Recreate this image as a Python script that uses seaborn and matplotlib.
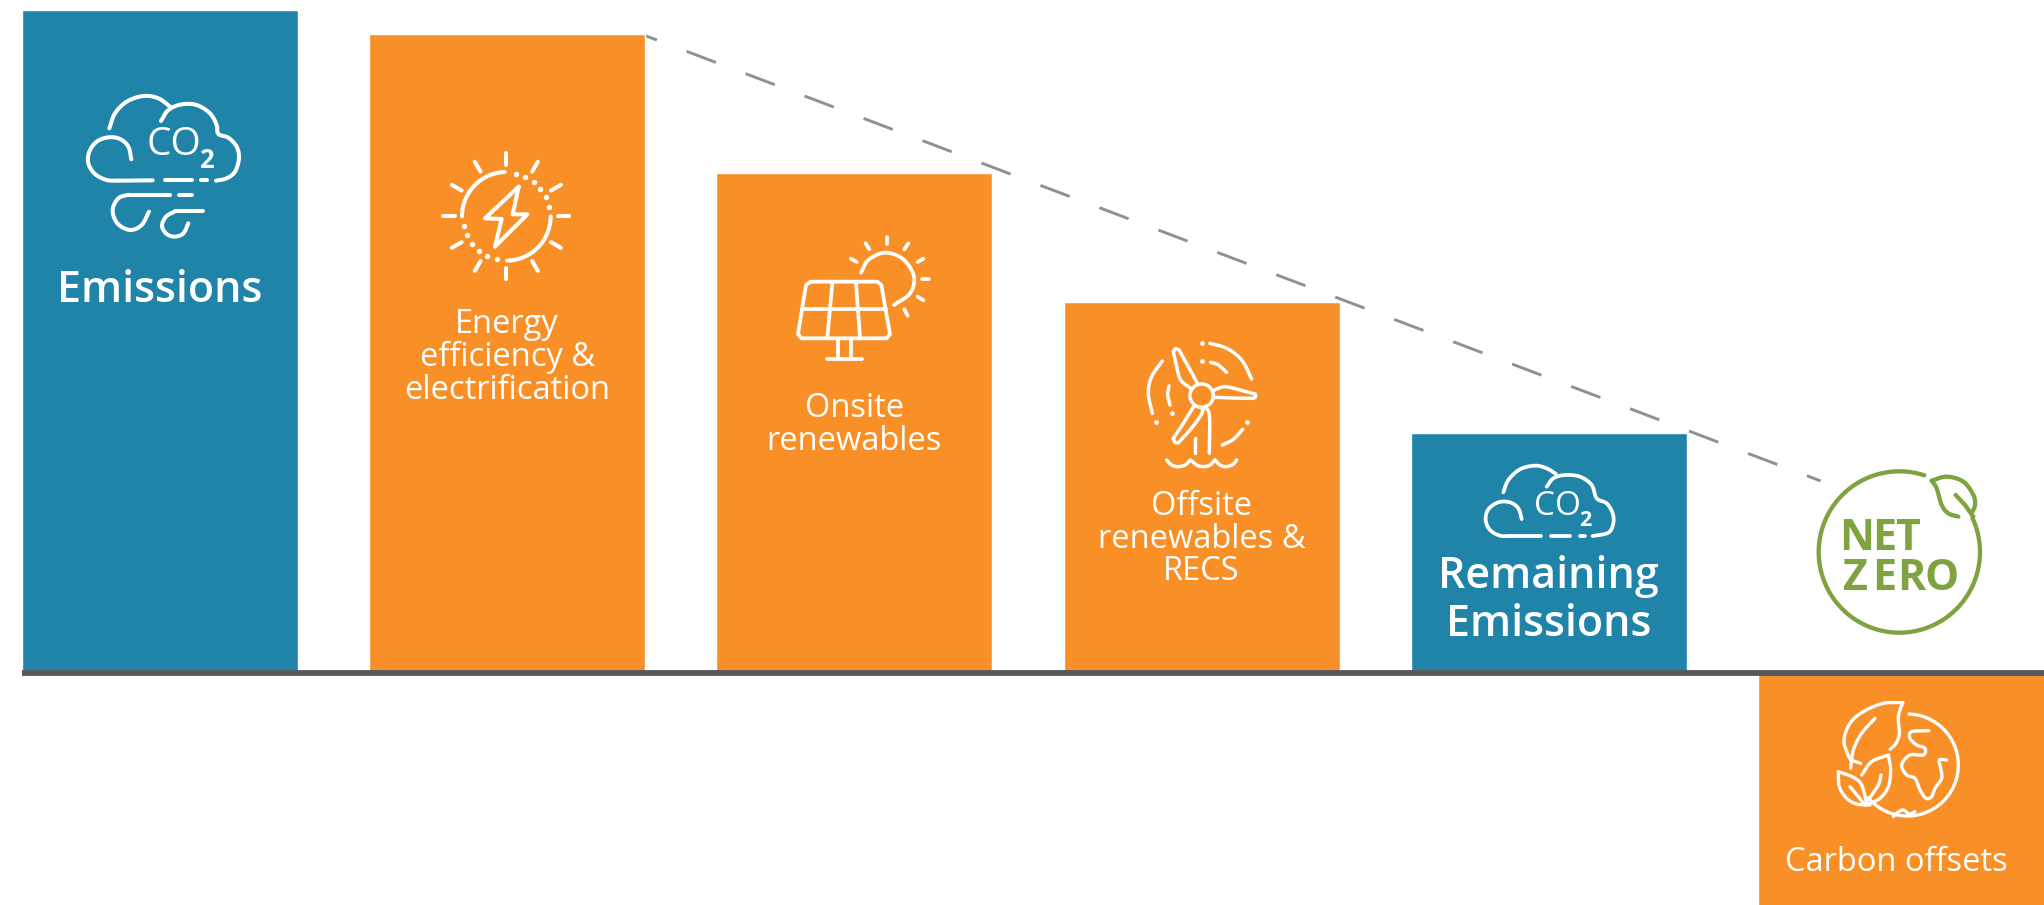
import numpy as np
import pandas as pd
import matplotlib
matplotlib.use("Agg")
import matplotlib.pyplot as plt
import seaborn as sns

# ---- chart values -------------------------------------------------------
categories = ["Emissions", "Energy efficiency", "Onsite", "Offsite", "Remaining", "Offsets"]
values = [100.15, 96.55, 75.45, 55.95, 36.05, -36.0]
bar_colors = ["#2084a9", "#f99027", "#f99027", "#f99027", "#2084a9", "#f99027"]
labels = ["Emissions", "Energy\nefficiency &\nelectrification", "Onsite\nrenewables",
          "Offsite\nrenewables &\nRECS", "Remaining\nEmissions", "Carbon offsets"]
label_y = [290, 357.5, 425, 539, 600.5, 862]
label_bold = [True, False, False, False, True, False]
trend_x = [1.396, 4.783]
trend_y = [96.3, 28.8]

GREEN = "#7fa341"
WHITE = "white"
STEP = 347.2
FIRST = 160.0

sns.set_theme(style="white")
plt.rcParams["font.family"] = ["Open Sans", "DejaVu Sans"]
plt.rcParams["lines.scale_dashes"] = False

fig = plt.figure(figsize=(20.44, 9.05), dpi=100)
ax = fig.add_axes([0, 0, 1, 1])

# ---- bars, zero line and trend line ------------------------------------
frame = pd.DataFrame({"step": categories, "value": values})
sns.barplot(data=frame, x="step", y="value", hue="step", order=categories,
            hue_order=categories, palette=bar_colors, saturation=1,
            width=276 / STEP, dodge=False, legend=False, ax=ax, zorder=3)
x_left, x_right = -FIRST / STEP, (2044 - FIRST) / STEP
ax.set_xlim(x_left, x_right)
ax.set_ylim(-35.45, 101.67)
ax.patches[-1].set_width(1.0)
ax.plot([x_left + 22 / STEP, x_right], [-0.3, -0.3], color="#55585c", lw=4.2,
        solid_capstyle="butt", zorder=4)
ax.plot(trend_x, trend_y, color="#8e9196", lw=2.1,
        linestyle=(13.1, (22.5, 22.9)), zorder=2)
ax.axis("off")

# ---- pictogram layer, measured in figure pixels -------------------------
ov = fig.add_axes([0, 0, 1, 1], zorder=5)
ov.set_xlim(0, 2044)
ov.set_ylim(905, 0)
ov.axis("off")


def spline(points, steps=14):
    p = np.asarray(points, float)
    if len(p) < 3:
        return p
    q = np.vstack([2 * p[0] - p[1], p, 2 * p[-1] - p[-2]])
    out = []
    for i in range(1, len(q) - 2):
        a, b, c, d = q[i - 1], q[i], q[i + 1], q[i + 2]
        for t in np.linspace(0, 1, steps, endpoint=False):
            out.append(0.5 * ((2 * b) + (c - a) * t + (2 * a - 5 * b + 4 * c - d) * t ** 2
                              + (3 * b - a - 3 * c + d) * t ** 3))
    out.append(p[-1])
    return np.array(out)


class Icon:
    """Strokes given in a 3x local grid whose origin sits at a figure pixel."""

    def __init__(self, x0, y0, lw=2.9, color=WHITE):
        self.x0, self.y0, self.lw, self.color = x0, y0, lw, color

    def _xy(self, pts):
        pts = np.asarray(pts, float)
        return self.x0 + pts[:, 0] / 3, self.y0 + pts[:, 1] / 3

    def curve(self, pts, lw=None):
        x, y = self._xy(spline(pts))
        ov.plot(x, y, color=self.color, lw=lw or self.lw, solid_capstyle="round",
                solid_joinstyle="round")

    def poly(self, pts, closed=False, lw=None):
        pts = list(pts) + ([pts[0]] if closed else [])
        x, y = self._xy(pts)
        ov.plot(x, y, color=self.color, lw=lw or self.lw, solid_capstyle="round",
                solid_joinstyle="round")

    def dots(self, pts, size=None):
        x, y = self._xy(pts)
        ov.plot(x, y, ls="none", marker="o", ms=size or self.lw * 1.35,
                mfc=self.color, mec="none")

    def arc(self, cx, cy, r, start, stop, lw=None):
        th = np.radians(np.linspace(start, stop, 90))
        self.poly(np.column_stack([cx + r * np.cos(th), cy + r * np.sin(th)]), lw=lw)

    def label(self, x, y, s, size, weight=400, color=None):
        ov.text(self.x0 + x / 3, self.y0 + y / 3, s, fontsize=size, fontweight=weight,
                color=color or self.color, ha="center", va="center")


def co2(ic, cx, cy, size, sub_x, sub_y, sub_size):
    ic.label(cx, cy, "CO", size, 400)
    ic.label(sub_x, sub_y, "2", sub_size, 700)


# Emissions cloud with wind
c = Icon(60, 70)
c.curve([(148, 175), (165, 130), (200, 95), (250, 78), (295, 85), (333, 112)])
c.curve([(303, 153), (325, 120), (365, 103), (410, 105), (450, 130), (470, 165), (475, 192),
         (505, 203), (530, 230), (537, 265), (525, 305), (500, 325), (468, 332)])
c.curve([(214, 268), (205, 230), (180, 207), (145, 202), (110, 215), (88, 245), (85, 280),
         (105, 312), (140, 330), (175, 332)])
c.poly([(175, 332), (278, 331)])
c.poly([(315, 331), (397, 331)])
c.poly([(422, 331), (440, 331)])
c.curve([(205, 374), (175, 385), (158, 420), (172, 460), (210, 480), (245, 465), (267, 425)])
c.poly([(205, 374), (330, 374)])
c.poly([(357, 374), (397, 374)])
c.curve([(345, 424), (318, 440), (306, 468), (320, 492), (345, 500), (370, 490), (385, 460)])
c.poly([(345, 424), (430, 424)])
co2(c, 341, 224, 28, 438, 270, 18.5)

# Energy efficiency sun with bolt
s = Icon(410, 130)
for a in range(0, 360, 30):
    t = np.radians(a)
    s.poly([(289 + 155 * np.cos(t), 259 + 155 * np.sin(t)),
            (289 + 189 * np.cos(t), 259 + 189 * np.sin(t))])
s.arc(289, 259, 133, 180, 268)
s.arc(289, 259, 133, 0, 89)
s.dots([(318, 131), (345, 141), (371, 157), (391, 178), (407, 202), (417, 230),
        (161, 289), (171, 316), (186, 341), (207, 362), (232, 378), (260, 387)])
s.poly([(326, 170), (225, 265), (275, 267), (255, 350), (352, 253), (308, 253)], closed=True)

# Onsite solar panel
p = Icon(770, 220, lw=2.7)
p.poly([(122, 185), (322, 185), (334, 195), (360, 342), (350, 355), (95, 355), (84, 342),
        (108, 195)], closed=True)
p.poly([(95, 268), (348, 268)])
p.poly([(187, 190), (172, 352)])
p.poly([(258, 190), (270, 352)])
p.poly([(203, 358), (203, 412)])
p.poly([(243, 358), (243, 412)])
p.poly([(170, 416), (275, 416)])
p.curve([(273, 158), (295, 120), (345, 98), (400, 118), (432, 170), (420, 220), (372, 255)])
for ray in [[(352, 52), (352, 73)], [(287, 70), (298, 88)], [(243, 116), (260, 126)],
            [(415, 70), (403, 88)], [(460, 116), (443, 126)], [(457, 178), (476, 178)],
            [(443, 230), (460, 241)], [(403, 268), (413, 287)]]:
    p.poly(ray)

# Offsite wind turbine
w = Icon(1120, 320, lw=2.5)
w.arc(245, 227, 35, 0, 360)
w.curve([(232, 190), (205, 140), (177, 90)])
w.curve([(177, 90), (167, 86), (160, 95)])
w.curve([(160, 95), (170, 140), (182, 180), (212, 205)])
w.curve([(285, 232), (340, 234), (400, 235)])
w.curve([(400, 235), (407, 230), (405, 222)])
w.curve([(405, 222), (360, 210), (318, 200), (295, 205), (280, 212)])
w.curve([(222, 258), (190, 310), (160, 355)])
w.curve([(160, 355), (165, 367), (175, 368)])
w.curve([(175, 368), (210, 330), (240, 290), (248, 270), (240, 260)])
w.curve([(252, 262), (268, 285), (268, 400)])
w.poly([(225, 355), (225, 400)])
w.curve([(140, 420), (155, 435), (175, 440), (195, 435), (212, 420)])
w.curve([(212, 420), (230, 435), (250, 440), (270, 435), (285, 420)])
w.curve([(285, 420), (300, 435), (320, 440), (340, 432), (350, 420)])
w.curve([(127, 123), (95, 170), (85, 220), (97, 280)])
w.curve([(147, 198), (143, 225), (150, 255)])
w.curve([(270, 70), (320, 85), (365, 120), (395, 177)])
w.curve([(272, 127), (295, 135), (320, 157)])
w.curve([(307, 375), (340, 358), (368, 328)])
w.dots([(155, 280), (108, 306), (245, 68), (245, 124), (382, 306)])

# Remaining emissions cloud
r = Icon(1470, 450, lw=2.7)
r.curve([(100, 127), (115, 90), (150, 58), (195, 47), (230, 55), (258, 72)])
r.curve([(230, 110), (250, 85), (285, 75), (330, 80), (365, 105), (380, 145), (410, 160),
         (428, 190), (430, 220), (415, 248), (368, 258)])
r.curve([(155, 207), (145, 175), (120, 157), (85, 157), (55, 178), (47, 210), (60, 240),
         (90, 257), (120, 258)])
r.poly([(120, 258), (212, 258)])
r.poly([(242, 258), (300, 258)])
r.poly([(330, 258), (345, 258)])
co2(r, 261, 170, 24, 345, 212, 15.5)

# Net zero badge
n = Icon(1800, 460, lw=3.1, color=GREEN)
n.arc(298, 276, 242, -25, 288)
n.poly([(467, 105), (495, 135), (520, 170)])
n.curve([(395, 62), (440, 50), (490, 65), (520, 105), (525, 135), (515, 160)])
n.curve([(395, 62), (410, 85), (425, 135), (445, 160), (475, 170)])
for ch, lx in zip("NET", (170, 252, 322)):
    n.label(lx, 236, ch, 31, 700)
for ch, lx in zip("ZERO", (167, 252, 334, 424)):
    n.label(lx, 356, ch, 31, 700)

# Carbon offsets globe and leaves
g = Icon(1820, 690, lw=2.4)
g.arc(262, 225, 153, -88, 140)
g.curve([(248, 38), (190, 40), (130, 65), (90, 100), (72, 150), (82, 190), (92, 210)])
g.curve([(248, 38), (235, 80), (238, 130), (228, 160), (210, 178)])
g.curve([(165, 85), (125, 130), (100, 180), (92, 235)])
g.poly([(92, 210), (122, 220)])
g.curve([(205, 195), (155, 215), (125, 255)])
g.curve([(205, 195), (212, 240), (205, 290), (180, 325), (140, 345)])
g.curve([(183, 255), (175, 285), (145, 330)])
g.curve([(55, 245), (100, 262), (125, 285), (140, 340)])
g.curve([(55, 245), (58, 290), (80, 325), (110, 342), (150, 345)])
g.curve([(90, 290), (115, 320), (135, 345)])
g.curve([(327, 122), (275, 125), (270, 145), (290, 165), (315, 175), (310, 195), (270, 195),
         (245, 225), (260, 255), (285, 265), (300, 300), (318, 325), (335, 320), (345, 295),
         (365, 265), (362, 235), (358, 210), (380, 210)])
g.curve([(285, 365), (268, 372), (250, 360), (232, 368), (220, 380)])

# ---- bar captions -------------------------------------------------------
for i, (text, y, bold) in enumerate(zip(labels, label_y, label_bold)):
    ov.text(FIRST + STEP * i, y, text, color=WHITE, ha="center", va="center",
            fontsize=31 if bold else 23.5, fontweight=600 if bold else 400,
            linespacing=1.18 if bold else 0.985)

fig.savefig("out.png", dpi=100)
